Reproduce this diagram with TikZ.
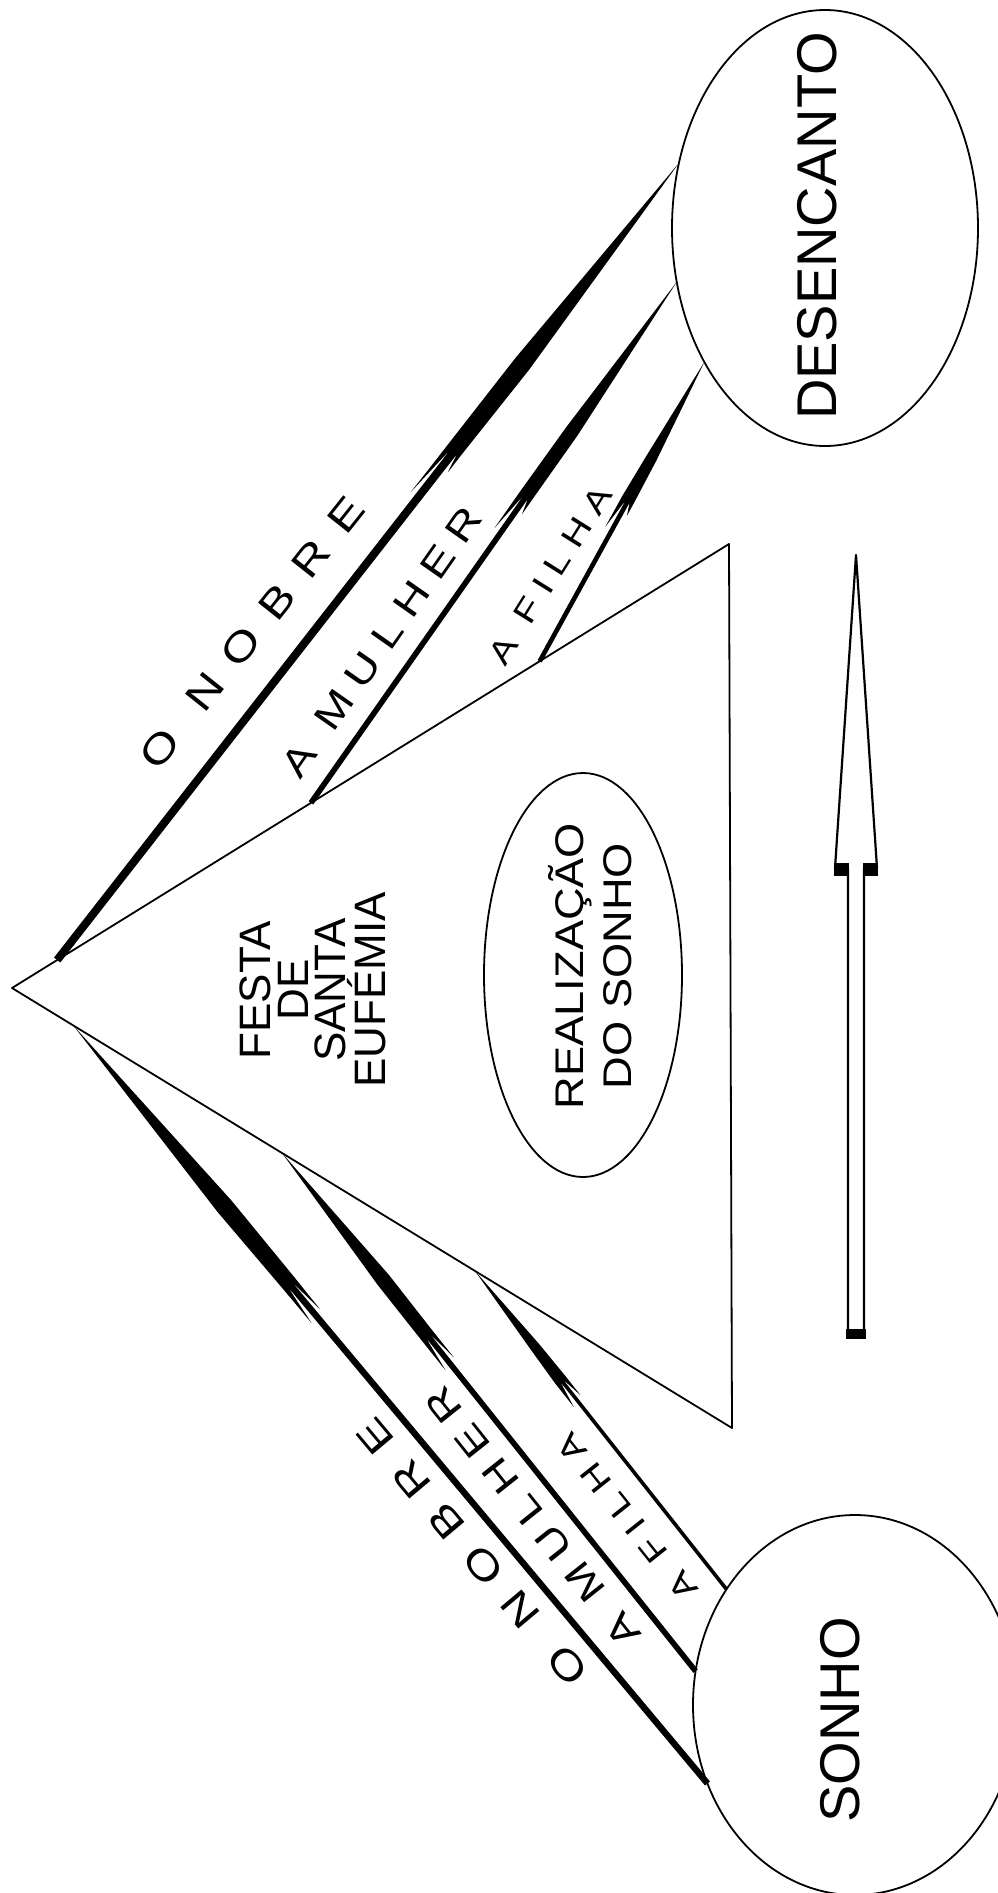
\documentclass[tikz,border=0pt]{standalone}
\usepackage{fontspec}
\setmainfont{Liberation Sans}
\newfontfamily\lsA[LetterSpace=52,FakeStretch=1.25]{Liberation Sans}
\newfontfamily\lsB[LetterSpace=33,FakeStretch=1.25]{Liberation Sans}
\newfontfamily\lsC[LetterSpace=33,FakeStretch=1.25]{Liberation Sans}
\newfontfamily\widefont[FakeStretch=1.13]{Liberation Sans}
\usetikzlibrary{shapes.geometric,calc}
% harpoon-like tapered arrow from #1 (tail) to #2 (tip)
% #3 head-base fraction, #4 shaft half width, #5 head base half width,
% #6 head max half width, #7 outer barb length, #8 inner barb length
\newcommand\harp[8]{%
  \pgfmathanglebetweenpoints{\pgfpointanchor{#1}{center}}{\pgfpointanchor{#2}{center}}%
  \edef\harpang{\pgfmathresult}%
  \pgfpointdiff{\pgfpointanchor{#1}{center}}{\pgfpointanchor{#2}{center}}%
  \pgfgetlastxy{\harpdx}{\harpdy}%
  \pgfmathsetmacro\harplen{veclen(\harpdx,\harpdy)}%
  \pgfmathsetmacro\harpb{#3*\harplen}%
  \pgfmathsetmacro\harpm{\harpb+0.3*(\harplen-\harpb)}%
  \begin{scope}[shift={(#1)},rotate=\harpang,x=1pt,y=1pt]
    \fill (0,#4) -- ({\harpb-2},#4) -- ({\harpb-#7},{#4+5}) -- (\harpb,{max(#5,#4+5)})
      -- (\harpm,#6) -- (\harplen,0) -- (\harpm,-#6) -- (\harpb,{-max(#5,#4+4)})
      -- ({\harpb-#8},{-#4-4}) -- ({\harpb-2},-#4) -- (0,-#4) -- cycle;
  \end{scope}}
\begin{document}
\begin{tikzpicture}[x=1pt,y=-1pt,line join=round,
  oval/.style={ellipse,draw,line width=1.8pt,inner sep=0pt,outer sep=0pt},
  bigtxt/.style={rotate=90,inner sep=0pt,font=\fontsize{56}{56}\selectfont},
  lblA/.style={inner sep=0pt,font=\lsA\fontsize{40}{40}\selectfont},
  lblB/.style={inner sep=0pt,font=\lsB\fontsize{38}{38}\selectfont},
  lblC/.style={inner sep=0pt,font=\lsC\fontsize{32}{32}\selectfont}]
\useasboundingbox (0,0) rectangle (997,1893);
\fill[white] (0,0) rectangle (997,1893);

% triangle
\coordinate (apex) at (12,988);
\coordinate (ttop) at (729,544);
\coordinate (tbot) at (732,1428);
\draw[line width=1.8pt] (apex) -- (ttop) -- (tbot) -- cycle;

% ellipses
\node[oval,minimum width=306pt,minimum height=436pt] (des) at (825,228) {};
\node[oval,minimum width=324pt,minimum height=380pt] (son) at (855,1705) {};
\node[oval,minimum width=198pt,minimum height=404pt] (real) at (583,975) {};

% texts
\node[bigtxt] (destxt) at (817,226) {DESENCANTO};
\node[bigtxt] (sontxt) at (840,1720) {SONHO};
\node[rotate=90,align=center,inner sep=0pt,font=\fontsize{44}{37.5}\selectfont] (festa) at (313,990) {FESTA\\DE\\SANTA\\EUFÉMIA};
\node[rotate=90,align=center,inner sep=0pt,font=\widefont\fontsize{40}{48}\selectfont] (realtxt) at (590,966) {REALIZAÇÃO\\DO SONHO};

% arrow end points
\coordinate (u1s) at ($(apex)!0.063!(ttop)$);
\coordinate (u2s) at ($(apex)!0.417!(ttop)$);
\coordinate (u3s) at ($(apex)!0.736!(ttop)$);
\coordinate (u1e) at (des.156.5);
\coordinate (u2e) at (des.200);
\coordinate (u3e) at (des.228.5);
\coordinate (l1e) at ($(apex)!0.085!(tbot)$);
\coordinate (l2e) at ($(apex)!0.375!(tbot)$);
\coordinate (l3e) at ($(apex)!0.643!(tbot)$);
\coordinate (l1s) at (son.208.8);
\coordinate (l2s) at (son.168.6);
\coordinate (l3s) at (son.138.4);

% upper arrows (towards DESENCANTO)
\harp{u1s}{u1e}{0.64}{4}{7}{9}{60}{22}
\harp{u2s}{u2e}{0.59}{2.8}{5.5}{7}{45}{18}
\harp{u3s}{u3e}{0.54}{2.3}{4.5}{5.5}{35}{15}
% lower arrows (from SONHO towards the apex)
\harp{l1s}{l1e}{0.66}{3.2}{8}{9}{45}{40}
\harp{l2s}{l2e}{0.65}{2.8}{6.5}{7.5}{40}{35}
\harp{l3s}{l3e}{0.66}{1.8}{4.5}{5}{30}{25}

% labels
\node[lblA,rotate=51.5] (ln1) at (252,633) {O NOBRE};
\node[lblB,rotate=55] (ln2) at (382,642) {A MULHER};
\node[lblC,rotate=58] (ln3) at (550,575) {A FILHA};
\node[lblA,rotate=130] (ll1) at (472,1552) {O NOBRE};
\node[lblB,rotate=128.5] (ll2) at (533,1517) {A MULHER};
\node[lblC,rotate=128.5] (ll3) at (627,1517) {A FILHA};

% hollow arrow
\draw[line width=2.2pt] (856,555) -- (877,868) -- (864,868) -- (864,1337)
  -- (848,1337) -- (848,868) -- (835,868) -- cycle;
\fill (834,863) rectangle (849,876);
\fill (863,863) rectangle (878,876);
\fill (846,1329) rectangle (866,1339);
\end{tikzpicture}
\end{document}
